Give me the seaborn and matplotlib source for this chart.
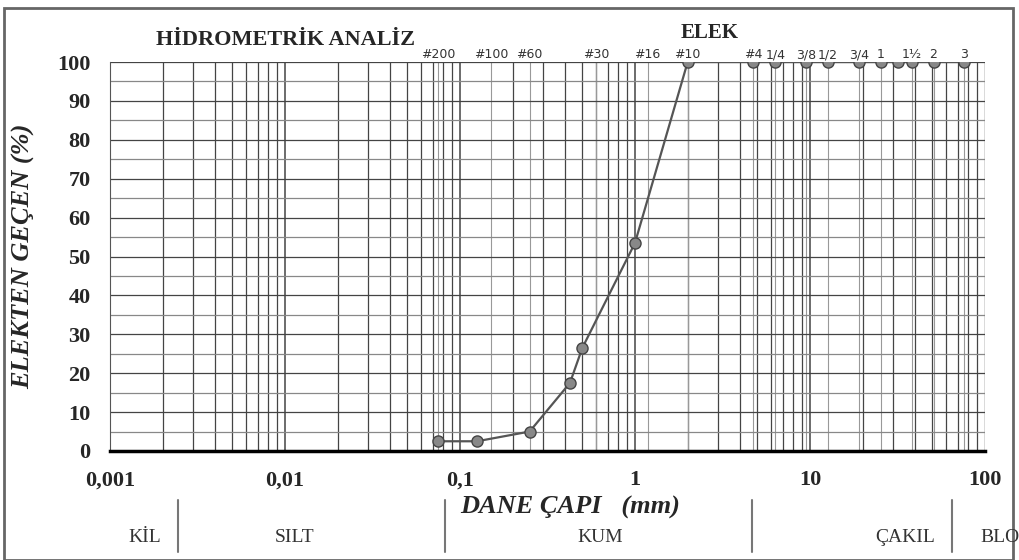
import matplotlib.pyplot as plt
import numpy as np
import pandas as pd
import seaborn as sns

# grain size distribution (sieve analysis)
diameter_mm = [0.075, 0.125, 0.25, 0.425, 0.5, 1.0, 2.0, 4.75, 6.35, 9.525, 12.7,
               19.05, 25.4, 31.75, 38.1, 50.8, 76.2]
passing_pct = [2.5, 2.5, 5.0, 17.5, 26.5, 53.5, 100, 100, 100, 100, 100,
               100, 100, 100, 100, 100, 100]

# sieve labels along the top edge
sieve_sizes = [0.075, 0.15, 0.25, 0.6, 1.18, 2.0, 4.75, 6.35, 9.525, 12.7,
               19.05, 25.4, 38.1, 50.8, 76.2]
sieve_labels = ['#200', '#100', '#60', '#30', '#16', '#10', '#4', '1/4', '3/8', '1/2',
                '3/4', '1', '1½', '2', '3']

# soil classes below the axis
class_names = ['KİL', 'SILT', 'KUM', 'ÇAKIL', 'BLO']
class_x = [145, 295, 600, 905, 1000]
class_bounds = [178, 445, 752, 952]

df = pd.DataFrame({'d': diameter_mm, 'p': passing_pct})

sns.set_style('white')
plt.rcParams['font.family'] = ['Liberation Serif', 'DejaVu Serif']

fig = plt.figure(figsize=(10.19, 5.6), dpi=100)
ax = fig.add_axes([110 / 1019, 1 - 451 / 560, 875 / 1019, 389 / 560])

sns.lineplot(data=df, x='d', y='p', ax=ax, color='#555555', lw=1.6,
             marker='o', markersize=8, markerfacecolor='#888888',
             markeredgecolor='#444444', markeredgewidth=1)

ax.set_xscale('log')
ax.set_xlim(0.001, 100)
ax.set_ylim(0, 100)

# grid: every log minor position and every 5 %
for dec in [0.001, 0.01, 0.1, 1, 10]:
    for k in range(1, 10):
        ax.axvline(dec * k, color='#444444', lw=1.1 if k == 1 else 0.9, zorder=0)
for s in sieve_sizes:
    ax.axvline(s, color='#999999', lw=0.8, zorder=0)
ax.axvline(100, color='#444444', lw=1.0, zorder=0)
for yv in range(5, 101, 5):
    ax.axhline(yv, color='#444444' if yv % 10 == 0 else '#888888', lw=0.9, zorder=0)

for side in ['top', 'right']:
    ax.spines[side].set_visible(False)
ax.spines['bottom'].set_linewidth(2.5)
ax.spines['bottom'].set_color('black')
ax.spines['left'].set_color('#555555')

ax.set_yticks(range(0, 101, 10))
ax.set_yticklabels([str(v) for v in range(0, 101, 10)], fontsize=16, fontweight='bold')
ax.set_xticks([0.001, 0.01, 0.1, 1, 10, 100])
ax.set_xticklabels(['0,001', '0,01', '0,1', '1', '10', '100'], fontsize=16, fontweight='bold')
ax.tick_params(axis='x', direction='inout', length=10, width=2, pad=9)
ax.tick_params(axis='x', which='minor', direction='inout', length=5, width=1.5)
ax.tick_params(axis='y', direction='out', length=8, width=1, color='#555555', pad=6)

ax.set_xlabel('DANE ÇAPI   (mm)', fontsize=19, fontweight='bold', style='italic', labelpad=2)
ax.xaxis.set_label_coords((570 - 110) / 875, -0.115)
ax.set_ylabel('ELEKTEN GEÇEN (%)', fontsize=19, fontweight='bold', style='italic', labelpad=0)
ax.yaxis.set_label_coords(-0.085, 0.5)

for s, lab in zip(sieve_sizes, sieve_labels):
    ax.text(s, 100.2, lab, ha='center', va='bottom', fontsize=9, color='#333333',
            family='DejaVu Sans')

fig.text(285 / 1019, 1 - 40 / 560, 'HİDROMETRİK ANALİZ', ha='center', va='center',
         fontsize=16, fontweight='bold')
fig.text(710 / 1019, 1 - 33 / 560, 'ELEK', ha='center', va='center',
         fontsize=15, fontweight='bold')

for name, xp in zip(class_names, class_x):
    fig.text(xp / 1019, 1 - 538 / 560, name, ha='center', va='center', fontsize=14,
             color='#333333')
for xb in class_bounds:
    fig.add_artist(plt.Line2D([xb / 1019, xb / 1019], [1 - 500 / 560, 1 - 552 / 560],
                              color='#777777', lw=1.5))

# outer frame
fig.add_artist(plt.Rectangle((0.004, 0.0), 0.99, 0.985, fill=False,
                             edgecolor='#666666', lw=2, transform=fig.transFigure))

fig.savefig('out.png', dpi=100)
